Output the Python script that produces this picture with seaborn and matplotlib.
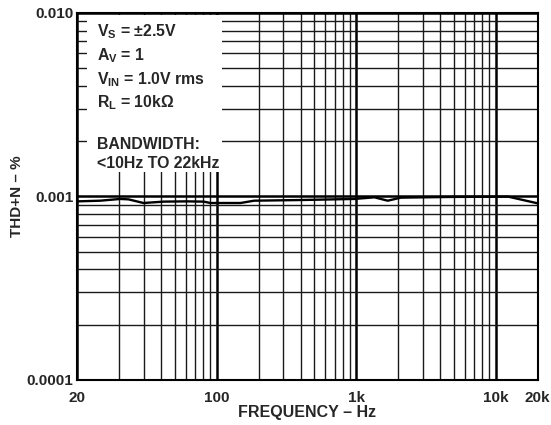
import seaborn as sns
import matplotlib.pyplot as plt
import matplotlib.ticker as mticker
from matplotlib.patches import Rectangle
import numpy as np
import pandas as pd

# curve (Hz, THD+N %)
freq_hz = [10, 14.6, 20.3, 23.3, 29.8, 41.6, 61.2, 80.7, 90, 148, 185,
           400, 968, 1350, 1680, 2090, 5000, 12300, 20000]
thd_pct = [0.000939, 0.000947, 0.000968, 0.000963, 0.000920, 0.000936,
           0.000939, 0.000936, 0.000920, 0.000920, 0.000947, 0.000955,
           0.000968, 0.000988, 0.000947, 0.000984, 0.000993, 0.000996,
           0.000916]

x_ticks = [10, 100, 1000, 10000, 20000]
x_tick_labels = ['20', '100', '1k', '10k', '20k']
y_ticks = [0.0001, 0.001, 0.01]
y_tick_labels = ['0.0001', '0.001', '0.010']

conditions = [r'V$_\mathregular{S}$ = ±2.5V',
              r'A$_\mathregular{V}$ = 1',
              r'V$_\mathregular{IN}$ = 1.0V rms',
              r'R$_\mathregular{L}$ = 10kΩ',
              'BANDWIDTH:',
              '<10Hz TO 22kHz']

sns.set_style('white')
plt.rcParams['font.family'] = ['Liberation Sans', 'DejaVu Sans']
plt.rcParams['font.weight'] = 'bold'
plt.rcParams['mathtext.fontset'] = 'custom'
plt.rcParams['mathtext.rm'] = 'Liberation Sans:bold'
plt.rcParams['mathtext.bf'] = 'Liberation Sans:bold'

df = pd.DataFrame({'freq': freq_hz, 'thd': thd_pct})

fig = plt.figure(figsize=(5.51, 4.25), dpi=100)
ax = fig.add_axes([0.1403, 0.1059, 0.8356, 0.8642])
sns.lineplot(data=df, x='freq', y='thd', color='black', lw=1.7, ax=ax, zorder=5)

ax.set_xscale('log')
ax.set_yscale('log')
ax.set_xlim(10, 20000)
ax.set_ylim(0.0001, 0.01)

ax.xaxis.set_major_locator(mticker.FixedLocator(x_ticks))
ax.xaxis.set_major_formatter(mticker.FixedFormatter(x_tick_labels))
ax.xaxis.set_minor_locator(mticker.LogLocator(base=10, subs=np.arange(2, 10)))
ax.xaxis.set_minor_formatter(mticker.NullFormatter())
ax.yaxis.set_major_locator(mticker.FixedLocator(y_ticks))
ax.yaxis.set_major_formatter(mticker.FixedFormatter(y_tick_labels))
ax.yaxis.set_minor_locator(mticker.LogLocator(base=10, subs=np.arange(2, 10)))
ax.yaxis.set_minor_formatter(mticker.NullFormatter())

ax.grid(True, which='major', color='black', lw=1.8, zorder=1)
ax.grid(True, which='minor', color='#1a1a1a', lw=1.0, zorder=1)
ax.set_axisbelow(True)
ax.tick_params(which='both', length=0, labelsize=11)
ax.tick_params(axis='x', pad=8)
ax.tick_params(axis='y', pad=3)
for lab in ax.get_xticklabels() + ax.get_yticklabels():
    lab.set_fontweight('bold')
for s in ax.spines.values():
    s.set_color('black')
    s.set_linewidth(1.5)

ax.set_xlabel('FREQUENCY – Hz', fontsize=11.5, fontweight='bold', labelpad=0)
ax.set_ylabel('THD+N – %', fontsize=11, fontweight='bold', labelpad=2)

# white panel behind the test conditions
ax.add_patch(Rectangle((0.0217, 0.567), 0.292, 0.4254, transform=ax.transAxes,
                       facecolor='white', edgecolor='none', zorder=3))
text_y = [0.9347, 0.8712, 0.8059, 0.7433, 0.6289, 0.5772]
for t, y in zip(conditions, text_y):
    ax.text(0.042, y, t, transform=ax.transAxes, fontsize=11.4,
            fontweight='bold', va='baseline', ha='left', zorder=4)

fig.savefig('out.png', dpi=100)
plt.close(fig)
